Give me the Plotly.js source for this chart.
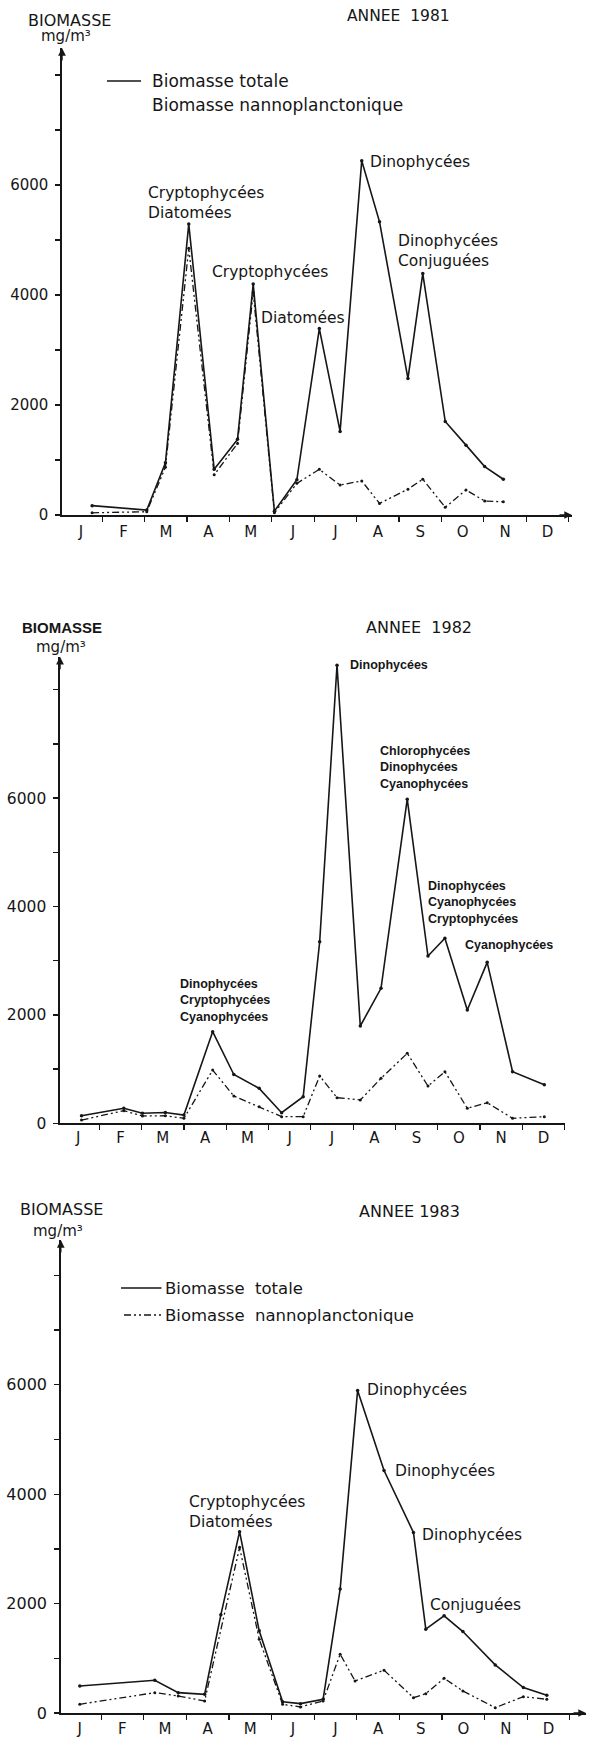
<!DOCTYPE html>
<html>
<head>
<meta charset="utf-8">
<script src="https://cdn.plot.ly/plotly-3.0.1.min.js"></script>
<style>html,body{margin:0;padding:0;background:#fff}</style>
</head>
<body>
<div id="chart" style="width:589px;height:1741px"></div>
<script>
// ---------- data (x = month index, 0 = 1 January, 12 = 31 December) ----------
const months = ['J','F','M','A','M','J','J','A','S','O','N','D'];
const yTickVals = [0,1000,2000,3000,4000,5000,6000,7000,8000];
const yTickText = ['0','','2000','','4000','','6000','',''];

// 1981
const x1981 = [0.76,2.05,2.49,3.04,3.64,4.19,4.56,5.06,5.59,6.12,6.61,7.12,7.54,8.21,8.56,9.09,9.58,10.02,10.46];
const total1981 = [170,90,950,5290,830,1375,4200,70,640,3390,1520,6440,5330,2480,4390,1700,1270,880,650];
const nanno1981 = [40,60,870,4850,730,1300,4050,40,575,830,545,620,210,470,650,140,455,255,240];

// 1982
const x1982 = [0.58,1.58,2.02,2.56,3.0,3.68,4.18,4.78,5.31,5.82,6.21,6.62,7.17,7.66,8.28,8.77,9.17,9.70,10.17,10.77,11.52];
const total1982 = [140,277,185,200,153,1690,900,645,196,490,3350,8450,1795,2490,5980,3087,3413,2090,2970,952,712];
const nanno1982 = [60,233,135,140,92,983,504,307,123,123,873,473,430,830,1291,688,952,277,380,92,122];

// 1983
const x1983 = [0.50,2.26,2.81,3.43,3.81,4.25,4.71,5.26,5.68,6.21,6.61,7.02,7.64,8.33,8.62,9.05,9.49,10.25,10.91,11.46];
const total1983 = [494,598,372,342,1795,3315,1502,207,171,250,2265,5897,4432,3302,1533,1777,1489,879,464,324];
const xNanno1983 = [0.50,2.26,2.81,3.43,4.25,4.71,5.26,5.68,6.21,6.61,6.96,7.64,8.33,8.62,9.05,9.49,10.25,10.91,11.46];
const nanno1983 = [159,372,311,220,3028,1350,159,110,220,1075,586,782,280,354,635,403,97,299,250];

const totalName = 'Biomasse totale';
const nannoName = 'Biomasse nannoplanctonique';

// ---------- styling / placement ----------
const W = 589, H = 1741;
const px = x => x / W;
const py = y => 1 - y / H;
const INK = '#161616';
const FONT = 'DejaVu Sans, sans-serif';
const BOLD = 'Liberation Sans, Arial, sans-serif';
const DASHDOT = '7px,3px,2px,3px,2px,3px';

// pixel frames of the three panels
const panels = [
  {xPix:[62,572],   kRange:[0.05,12.08],  yBottom:515,    yTopPix:48,    per1000:55.0, xArrow:true,  tick:15,   standoff:2},
  {xPix:[60,564.6], kRange:[0.071,12.0],  yBottom:1123.3, yTopPix:656.7, per1000:54.2, xArrow:false, tick:15.5, standoff:0},
  {xPix:[60.8,586], kRange:[0.054,12.38], yBottom:1713,   yTopPix:1240,  per1000:54.7, xArrow:true,  tick:16,   standoff:1}
];
panels.forEach(p => { p.yMax = (p.yBottom - p.yTopPix) / p.per1000 * 1000; });

const series = [
  {x:x1981, t:total1981, xn:x1981, n:nanno1981},
  {x:x1982, t:total1982, xn:x1982, n:nanno1982},
  {x:x1983, t:total1983, xn:xNanno1983, n:nanno1983}
];

const traces = [];
series.forEach((s, i) => {
  const sx = i === 0 ? 'x' : 'x' + (i + 1);
  const sy = i === 0 ? 'y' : 'y' + (i + 1);
  traces.push({x:s.x, y:s.t, xaxis:sx, yaxis:sy, type:'scatter', mode:'lines+markers', name:totalName,
    showlegend:false, line:{color:INK, width:1.6}, marker:{color:INK, size:3.5}});
  traces.push({x:s.xn, y:s.n, xaxis:sx, yaxis:sy, type:'scatter', mode:'lines+markers', name:nannoName,
    showlegend:false, line:{color:INK, width:1.3, dash:DASHDOT}, marker:{color:INK, size:3}});
});

const layout = {
  width: W, height: H,
  margin: {l:0, r:0, t:0, b:0},
  paper_bgcolor: '#fff', plot_bgcolor: 'rgba(0,0,0,0)',
  showlegend: false,
  font: {family: FONT, color: INK, size: 15},
  annotations: [], shapes: []
};

const halfMonths = months.map((m, i) => i + 0.5);
const minorTicks = [1,2,3,4,5,6,7,8,9,10,11,12];

panels.forEach((p, i) => {
  const xk = i === 0 ? 'xaxis' : 'xaxis' + (i + 1);
  const yk = i === 0 ? 'yaxis' : 'yaxis' + (i + 1);
  const xa = i === 0 ? 'x' : 'x' + (i + 1);
  const ya = i === 0 ? 'y' : 'y' + (i + 1);
  layout[xk] = {
    domain: [px(p.xPix[0]), px(p.xPix[1])], anchor: ya, range: p.kRange,
    showline: true, linecolor: INK, linewidth: 1.6, zeroline: false, showgrid: false,
    tickmode: 'array', tickvals: halfMonths, ticktext: months, ticks: '',
    ticklabelstandoff: p.standoff,
    tickfont: {family: FONT, size: 15, color: INK},
    minor: {tickmode: 'array', tickvals: minorTicks,
            ticks: 'outside', ticklen: 5, tickwidth: 1.2, tickcolor: INK, showgrid: false},
    fixedrange: true
  };
  layout[yk] = {
    domain: [py(p.yBottom), py(p.yTopPix)], anchor: xa, range: [0, p.yMax],
    showline: true, linecolor: INK, linewidth: 1.6, zeroline: false, showgrid: false,
    tickmode: 'array', tickvals: yTickVals, ticktext: yTickText,
    ticks: 'outside', ticklen: 5, tickwidth: 1.2, tickcolor: INK,
    ticklabelstandoff: 4,
    tickfont: {family: FONT, size: p.tick, color: INK},
    fixedrange: true
  };
  // axis arrow heads
  layout.annotations.push({xref: xa, yref: ya, x: p.kRange[0], y: p.yMax, ax: 0, ay: 14,
    axref: 'pixel', ayref: 'pixel', text: '', showarrow: true, arrowhead: 2, arrowsize: 1.1,
    arrowwidth: 1.4, arrowcolor: INK});
  if (p.xArrow) {
    layout.annotations.push({xref: xa, yref: ya, x: p.kRange[1], y: 0, ax: -14, ay: 0,
      axref: 'pixel', ayref: 'pixel', text: '', showarrow: true, arrowhead: 2, arrowsize: 1.1,
      arrowwidth: 1.4, arrowcolor: INK});
  }
});

function label(text, x, y, opt) {
  opt = opt || {};
  layout.annotations.push({
    xref: 'paper', yref: 'paper', x: px(x), y: py(y), text: text, showarrow: false,
    xanchor: opt.xanchor || 'left', yanchor: 'middle', align: opt.align || 'left',
    font: {family: opt.family || FONT, size: opt.size || 15.5, color: INK}
  });
}
const nb = '\u00A0';

// ---- panel 1981 ----
label('BIOMASSE', 69, 20, {xanchor: 'center', size: 16});
label('mg/m³', 66, 36, {xanchor: 'center', size: 15});
label('ANNEE' + nb + nb + '1981', 398, 16, {xanchor: 'center', size: 15.5});
label(totalName, 149.5, 81, {size: 17});
label(nannoName, 149.5, 105, {size: 17});
layout.shapes.push({type: 'line', xref: 'paper', yref: 'paper', x0: px(107), x1: px(141), y0: py(81), y1: py(81),
  line: {color: INK, width: 1.6}});
label('Cryptophycées<br>Diatomées', 146, 203);
label('Cryptophycées', 210, 272);
label('Diatomées', 259, 318);
label('Dinophycées', 368, 162);
label('Dinophycées<br>Conjuguées', 396, 251);

// ---- panel 1982 ----
label('<b>BIOMASSE</b>', 61.6, 627, {xanchor: 'center', family: BOLD, size: 15});
label('mg/m³', 60.5, 647, {xanchor: 'center', size: 15});
label('ANNEE' + nb + nb + '1982', 419, 627, {xanchor: 'center', size: 16});
label('<b>Dinophycées</b>', 348, 665, {family: BOLD, size: 12.5});
label('<b>Chlorophycées<br>Dinophycées<br>Cyanophycées</b>', 378, 767, {family: BOLD, size: 12.5});
label('<b>Dinophycées<br>Cyanophycées<br>Cryptophycées</b>', 426.3, 902.5, {family: BOLD, size: 12.5});
label('<b>Cyanophycées</b>', 462.7, 945, {family: BOLD, size: 12.5});
label('<b>Dinophycées<br>Cryptophycées<br>Cyanophycées</b>', 178.4, 1000, {family: BOLD, size: 12.5});

// ---- panel 1983 ----
label('BIOMASSE', 61, 1209, {xanchor: 'center', size: 16});
label('mg/m³', 58, 1231, {xanchor: 'center', size: 15});
label('ANNEE' + nb + '1983', 409, 1211, {xanchor: 'center', size: 16});
label('Biomasse' + nb + nb + 'totale', 163.4, 1288, {size: 16.5});
label('Biomasse' + nb + nb + 'nannoplanctonique', 163.4, 1315, {size: 16.5});
layout.shapes.push({type: 'line', xref: 'paper', yref: 'paper', x0: px(121), x1: px(161.5), y0: py(1288), y1: py(1288),
  line: {color: INK, width: 1.6}});
layout.shapes.push({type: 'line', xref: 'paper', yref: 'paper', x0: px(124), x1: px(161.5), y0: py(1315), y1: py(1315),
  line: {color: INK, width: 1.3, dash: DASHDOT}});
label('Cryptophycées<br>Diatomées', 186.7, 1512);
label('Dinophycées', 365, 1390);
label('Dinophycées', 392.5, 1471);
label('Dinophycées', 419.5, 1535);
label('Conjuguées', 428, 1605);

Plotly.newPlot('chart', traces, layout, {staticPlot: true, displayModeBar: false});
</script>
</body>
</html>
